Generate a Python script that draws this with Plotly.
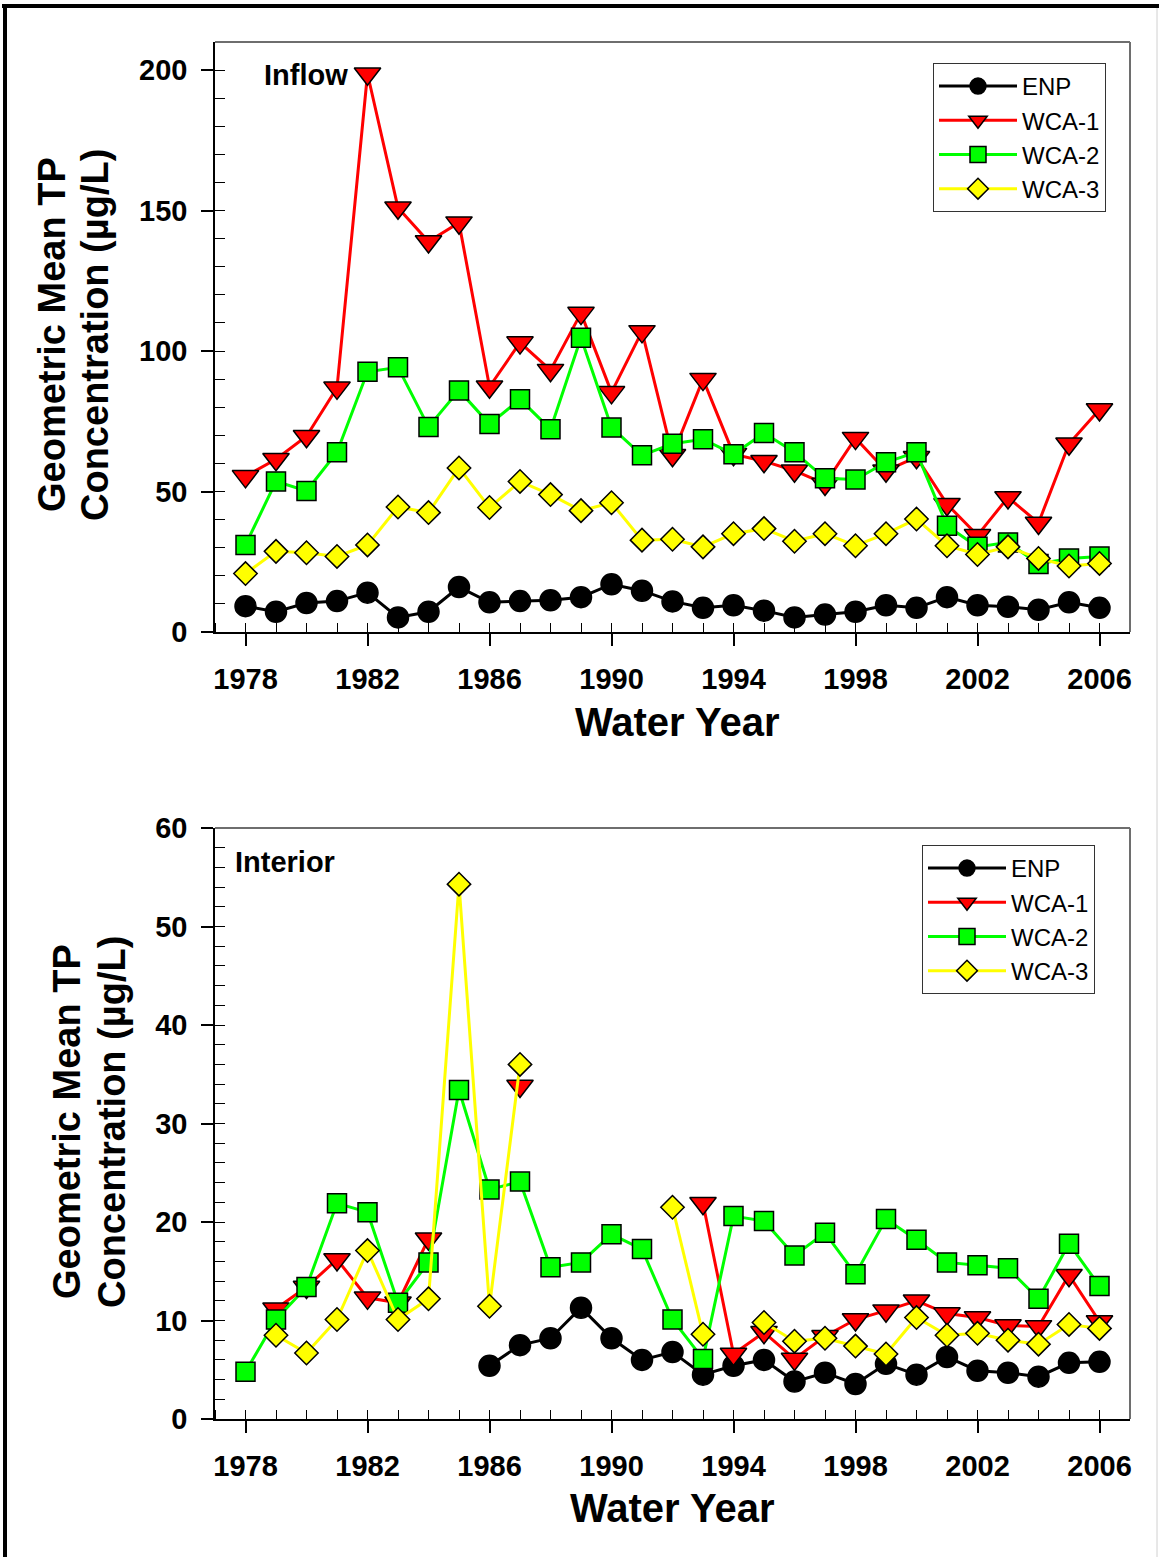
import plotly.graph_objects as go

years = list(range(1978, 2007))
series_names = ["ENP", "WCA-1", "WCA-2", "WCA-3"]

# Inflow panel (µg/L)
enp_inflow = [9.2, 7.2, 10.3, 11.0, 14.0, 5.2, 7.2, 16.0, 10.6, 11.0, 11.3, 12.4, 17.0, 14.7, 10.9,
              8.6, 9.5, 7.6, 5.2, 6.2, 7.2, 9.5, 8.6, 12.4, 9.5, 9.0, 7.9, 10.6, 8.6]
wca1_inflow = [55.4, 61.5, 69.7, 86.9, 198.7, 151.0, 139.0, 145.7, 87.3, 103.0, 93.2, 113.5, 85.3, 107.0,
               62.9, 90.0, 63.3, 60.8, 57.4, 52.7, 69.0, 57.4, 62.2, 45.5, 34.4, 47.9, 38.8, 67.0, 79.2]
wca2_inflow = [31.0, 53.6, 50.2, 64.0, 92.6, 94.2, 73.0, 86.0, 74.0, 82.8, 72.2, 104.7, 72.8, 62.9, 67.0,
               68.6, 63.3, 70.8, 64.0, 54.7, 54.3, 60.4, 64.0, 37.8, 30.3, 31.9, 24.2, 26.2, 26.9]
wca3_inflow = [20.8, 28.7, 28.2, 26.9, 31.0, 44.5, 42.5, 58.4, 44.3, 53.6, 48.9, 43.2, 46.0, 32.7, 33.0,
               30.3, 35.0, 36.8, 32.3, 35.0, 30.7, 35.0, 40.2, 30.7, 27.6, 30.3, 26.2, 23.5, 24.4]

# Interior panel (µg/L), None = no data
enp_interior = [None, None, None, None, None, None, None, None,
                5.4, 7.5, 8.2, 11.3, 8.2, 6.0, 6.8, 4.5, 5.4, 6.0, 3.8, 4.7, 3.55, 5.6, 4.5, 6.3, 4.9, 4.7, 4.3, 5.7, 5.8]
wca1_interior = [None, 11.2, 13.4, 16.2, 12.3, 11.8, 18.3, None, None, 33.8, None, None, None, None, None,
                 21.9, 6.6, 8.8, 6.1, 8.4, 10.1, 11.0, 12.0, 10.7, 10.3, 9.5, 9.4, 14.6, 9.9]
wca2_interior = [4.8, 10.1, 13.4, 21.9, 21.0, 11.8, 15.9, 33.4, 23.3, 24.1, 15.4, 15.9, 18.75, 17.25, 10.1,
                 6.1, 20.6, 20.1, 16.6, 18.9, 14.7, 20.3, 18.2, 15.9, 15.6, 15.3, 12.2, 17.8, 13.5]
wca3_interior = [None, 8.5, 6.7, 10.1, 17.1, 10.1, 12.2, 54.3, 11.45, 36.0, None, None, None, None,
                 21.5, 8.6, None, 9.8, 7.9, 8.2, 7.4, 6.6, 10.3, 8.5, 8.7, 8.0, 7.6, 9.6, 9.2]

x_tickvals = [1978, 1982, 1986, 1990, 1994, 1998, 2002, 2006]
y_ticks_inflow = [0, 50, 100, 150, 200]
y_ticks_interior = [0, 10, 20, 30, 40, 50, 60]

colors = ["#000000", "#FF0000", "#00FF00", "#FFFF00"]
symbols = ["circle", "triangle-down", "square", "diamond"]
sizes = [21, 23, 19, 18]

FONT = "Liberation Sans, Arial, sans-serif"

fig = go.Figure()

def add_panel(data, xa, ya, legend):
    for name, vals, c, s, sz in zip(series_names, data, colors, symbols, sizes):
        fig.add_trace(go.Scatter(
            x=years, y=vals, name=name, mode="lines+markers",
            line=dict(color=c, width=3),
            marker=dict(symbol=s, size=sz, color=c, line=dict(color="black", width=1.5)),
            xaxis=xa, yaxis=ya, legend=legend, connectgaps=False,
        ))

add_panel([enp_inflow, wca1_inflow, wca2_inflow, wca3_inflow], "x", "y", "legend")
add_panel([enp_interior, wca1_interior, wca2_interior, wca3_interior], "x2", "y2", "legend2")

W, H = 1159, 1557
ML, MR, MT, MB = 215, 29, 42, 138
PW = W - ML - MR
PH = H - MT - MB

def px(x):
    return (x - ML) / PW

def py(y):
    return (H - MB - y) / PH

top_dom = [py(632), 1.0]
bot_dom = [0.0, py(828)]

tickfont = dict(family=FONT, size=29, color="black", weight="bold")

def xaxis_cfg(domain_anchor):
    return dict(
        range=[1977, 2007], anchor=domain_anchor, domain=[0, 1],
        tickmode="array", tickvals=x_tickvals, ticktext=[str(v) for v in x_tickvals],
        ticks="outside", ticklen=12, tickwidth=1.5, tickcolor="black",
        minor=dict(dtick=1, tick0=1977, ticks="inside", ticklen=9, tickwidth=1.2, tickcolor="black"),
        showline=True, linecolor="black", linewidth=1.5,
        showgrid=False, zeroline=False, tickfont=tickfont, ticklabelstandoff=8,
    )

def yaxis_cfg(domain, rng, tickvals, minor_dtick, anchor):
    return dict(
        range=rng, domain=domain, anchor=anchor,
        tickmode="array", tickvals=tickvals,
        ticks="outside", ticklen=12, tickwidth=1.5, tickcolor="black",
        minor=dict(dtick=minor_dtick, tick0=0, ticks="inside", ticklen=10, tickwidth=1.2, tickcolor="black"),
        showline=True, linecolor="black", linewidth=1.5,
        showgrid=False, zeroline=False, tickfont=tickfont, ticklabelstandoff=8,
    )

def overlay_x(base, anchor):
    return dict(overlaying=base, anchor=anchor, range=[1977, 2007], tickmode="array", tickvals=x_tickvals,
                ticks="inside", ticklen=12, tickwidth=1.5, tickcolor="black",
                showticklabels=False, showline=False, showgrid=False, zeroline=False)

def overlay_y(base, anchor, rng, tickvals):
    return dict(overlaying=base, anchor=anchor, range=rng, tickmode="array", tickvals=tickvals,
                ticks="inside", ticklen=13, tickwidth=1.5, tickcolor="black",
                showticklabels=False, showline=False, showgrid=False, zeroline=False)

legend_common = dict(
    xanchor="right", yanchor="top", bgcolor="white", bordercolor="#333333", borderwidth=1,
    font=dict(family=FONT, size=24, color="black"), itemwidth=78, tracegroupgap=0,
    itemclick=False,
)

title_font = dict(family=FONT, size=38, color="black", weight="bold")
xtitle_font = dict(family=FONT, size=40, color="black", weight="bold")
label_font = dict(family=FONT, size=29, color="black", weight="bold")

def ann(text, x, y, font, xanchor="center", angle=0):
    return dict(text=text, x=px(x), y=py(y), xref="paper", yref="paper", xanchor=xanchor,
                yanchor="middle", textangle=angle, showarrow=False, font=font)

annotations = [
    ann("Inflow", 262, 75, label_font, "left"),
    ann("Interior", 233, 862, label_font, "left"),
    ann("Water Year", 677, 722, xtitle_font),
    ann("Water Year", 672, 1508, xtitle_font),
    ann("Geometric Mean TP", 52, 335, title_font, angle=-90),
    ann("Concentration (µg/L)", 95, 335, title_font, angle=-90),
    ann("Geometric Mean TP", 67, 1122, title_font, angle=-90),
    ann("Concentration (µg/L)", 112, 1122, title_font, angle=-90),
]

frame_gray = dict(color="#6e6e6e", width=2)
shapes = [
    dict(type="line", xref="paper", yref="paper", x0=0, x1=1, y0=top_dom[1], y1=top_dom[1], line=frame_gray),
    dict(type="line", xref="paper", yref="paper", x0=1, x1=1, y0=top_dom[0], y1=top_dom[1], line=frame_gray),
    dict(type="line", xref="paper", yref="paper", x0=0, x1=1, y0=bot_dom[1], y1=bot_dom[1], line=frame_gray),
    dict(type="line", xref="paper", yref="paper", x0=1, x1=1, y0=bot_dom[0], y1=bot_dom[1], line=frame_gray),
    # outer page border
    dict(type="line", xref="paper", yref="paper", x0=px(2), x1=px(1159), y0=py(6), y1=py(6),
         line=dict(color="black", width=4)),
    dict(type="line", xref="paper", yref="paper", x0=px(5), x1=px(5), y0=py(1557), y1=py(4),
         line=dict(color="black", width=4)),
    dict(type="line", xref="paper", yref="paper", x0=px(1157), x1=px(1157), y0=py(1557), y1=py(8),
         line=dict(color="#d0d0d0", width=1)),
]

fig.update_layout(
    width=W, height=H, autosize=False,
    margin=dict(l=ML, r=MR, t=MT, b=MB, pad=0),
    paper_bgcolor="white", plot_bgcolor="white",
    font=dict(family=FONT, color="black"),
    xaxis=xaxis_cfg("y"),
    yaxis=yaxis_cfg(top_dom, [0, 210], y_ticks_inflow, 10, "x"),
    xaxis2=xaxis_cfg("y2"),
    yaxis2=yaxis_cfg(bot_dom, [0, 60], y_ticks_interior, 2, "x2"),
    xaxis3=overlay_x("x", "y"),
    yaxis3=overlay_y("y", "x", [0, 210], y_ticks_inflow),
    xaxis4=overlay_x("x2", "y2"),
    yaxis4=overlay_y("y2", "x2", [0, 60], y_ticks_interior),
    legend=dict(x=px(1106), y=py(63), **legend_common),
    legend2=dict(x=px(1095), y=py(845), **legend_common),
    annotations=annotations,
    shapes=shapes,
    showlegend=True,
)

fig.write_html("out.html")
